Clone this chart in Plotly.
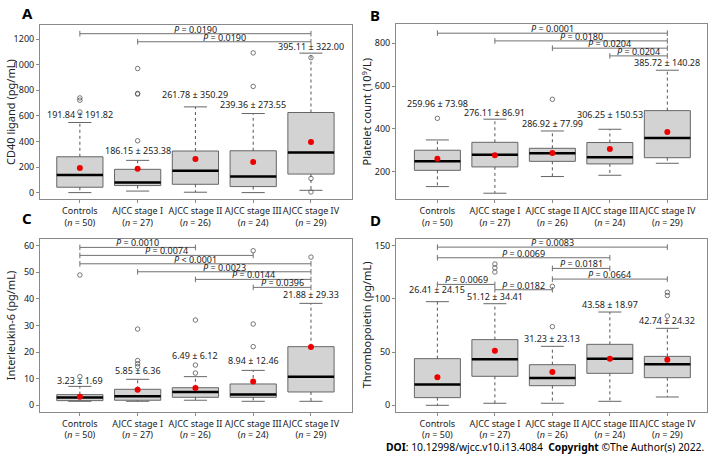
import plotly.graph_objects as go

W, H = 710, 461
FONT = "Noto Sans, Liberation Sans, Arial, sans-serif"

groups = ["Controls", "AJCC stage I", "AJCC stage II", "AJCC stage III", "AJCC stage IV"]
group_n = [50, 27, 26, 24, 29]
tick_labels = [f"{g}<br>(<i>n</i> = {n})" for g, n in zip(groups, group_n)]

# ---- Panel A: CD40 ligand (pg/mL)
cd40_q1 = [42, 55, 65, 47, 145]
cd40_median = [138, 78, 171, 125, 314]
cd40_q3 = [280, 182, 325, 327, 626]
cd40_low = [0, 12, 3, 0, 18]
cd40_high = [548, 252, 670, 618, 1090]
cd40_mean = [191.84, 186.15, 261.78, 239.36, 395.11]
cd40_sd = [191.82, 253.38, 350.29, 273.55, 322.00]
cd40_outliers = [[630, 722, 740], [405, 770, 775, 970], [], [830, 1092], [5, 110, 1055]]
cd40_label_y = [556, 275, 712, 634, 1085]
cd40_pairs = [(0, 4), (1, 4)]
cd40_pvals = ["= 0.0190", "= 0.0190"]
cd40_plevels = [1242, 1179]

# ---- Panel B: Platelet count
plt_q1 = [206, 222, 248, 236, 265]
plt_median = [248, 279, 286, 267, 357]
plt_q3 = [300, 337, 309, 336, 485]
plt_low = [130, 99, 177, 183, 239]
plt_high = [348, 445, 390, 398, 674]
plt_mean = [259.96, 276.11, 286.92, 306.25, 385.72]
plt_sd = [73.98, 86.91, 77.99, 150.53, 140.28]
plt_outliers = [[449], [], [538], [], []]
plt_label_y = [484, 445, 390, 435, 676]
plt_pairs = [(0, 4), (1, 4), (2, 4), (3, 4)]
plt_pvals = ["= 0.0001", "= 0.0180", "= 0.0204", "= 0.0204"]
plt_plevels = [847, 811, 777, 741]

# ---- Panel C: Interleukin-6 (pg/mL)
il6_q1 = [1.75, 1.9, 3.0, 3.0, 5.0]
il6_median = [2.9, 3.4, 5.0, 4.1, 10.75]
il6_q3 = [4.0, 6.0, 6.6, 8.0, 22.0]
il6_low = [1.5, 1.5, 1.9, 1.5, 1.5]
il6_high = [7.1, 9.75, 10.75, 13.1, 38.25]
il6_mean = [3.23, 5.85, 6.49, 8.94, 21.88]
il6_sd = [1.69, 6.36, 6.12, 12.46, 29.33]
il6_outliers = [[10.75, 48.9], [14.5, 15.6, 16.8, 28.6], [12.1, 15.1, 32.0], [22.0, 30.5, 58.0], [55.6]]
il6_label_y = [6.8, 10.3, 15.9, 14.2, 38.8]
il6_pairs = [(0, 2), (0, 3), (0, 4), (1, 4), (2, 4), (3, 4)]
il6_pvals = ["= 0.0010", "= 0.0074", "< 0.0001", "= 0.0023", "= 0.0144", "= 0.0396"]
il6_plevels = [59.25, 56.25, 53.1, 50.1, 47.25, 44.25]

# ---- Panel D: Thrombopoietin (pg/mL)
tpo_q1 = [7.2, 27.2, 18.4, 30.0, 25.9]
tpo_median = [19.4, 43.1, 25.6, 43.75, 38.4]
tpo_q3 = [43.75, 61.6, 38.1, 57.2, 45.9]
tpo_low = [0, 1.9, 1.9, 3.75, 7.8]
tpo_high = [97.2, 95.3, 55.3, 87.5, 72.2]
tpo_mean = [26.41, 51.12, 31.23, 43.58, 42.74]
tpo_sd = [24.15, 34.41, 23.13, 18.97, 24.32]
tpo_outliers = [[], [125, 129, 132.5], [73.75, 111.6], [], [83.75, 103, 106]]
tpo_label_y = [101.6, 95.3, 56.2, 88.4, 73.1]
tpo_pairs = [(0, 4), (0, 3), (2, 3), (2, 4), (0, 1), (1, 2)]
tpo_pvals = ["= 0.0083", "= 0.0069", "= 0.0181", "= 0.0664", "= 0.0069", "= 0.0182"]
tpo_plevels = [148.4, 138.4, 128.4, 118.4, 113.4, 108.4]

panels = [
    dict(letter="A", title="CD40 ligand (pg/mL)", q1=cd40_q1, med=cd40_median, q3=cd40_q3,
         low=cd40_low, high=cd40_high, mean=cd40_mean, sd=cd40_sd, out=cd40_outliers, ly=cd40_label_y,
         pairs=cd40_pairs, pv=cd40_pvals, pl=cd40_plevels,
         yrange=[-50, 1310], ytick=[0, 200, 400, 600, 800, 1000, 1200],
         px=(40, 352), py=(25, 199), xr=[-0.69, 4.71], letter_pos=(27, 13)),
    dict(letter="B", title="Platelet count (10<sup>9</sup>/L)", q1=plt_q1, med=plt_median, q3=plt_q3,
         low=plt_low, high=plt_high, mean=plt_mean, sd=plt_sd, out=plt_outliers, ly=plt_label_y,
         pairs=plt_pairs, pv=plt_pvals, pl=plt_plevels,
         yrange=[72, 890], ytick=[200, 400, 600, 800],
         px=(396, 707), py=(24, 199), xr=[-0.72, 4.69], letter_pos=(375, 15)),
    dict(letter="C", title="Interleukin-6 (pg/mL)", q1=il6_q1, med=il6_median, q3=il6_q3,
         low=il6_low, high=il6_high, mean=il6_mean, sd=il6_sd, out=il6_outliers, ly=il6_label_y,
         pairs=il6_pairs, pv=il6_pvals, pl=il6_plevels,
         yrange=[-2.4, 62.4], ytick=[0, 10, 20, 30, 40, 50, 60],
         px=(40, 352), py=(239, 411.7), xr=[-0.69, 4.71], letter_pos=(27, 218)),
    dict(letter="D", title="Thrombopoietin (pg/mL)", q1=tpo_q1, med=tpo_median, q3=tpo_q3,
         low=tpo_low, high=tpo_high, mean=tpo_mean, sd=tpo_sd, out=tpo_outliers, ly=tpo_label_y,
         pairs=tpo_pairs, pv=tpo_pvals, pl=tpo_plevels,
         yrange=[-6, 156], ytick=[0, 50, 100, 150],
         px=(396, 707), py=(239, 411.7), xr=[-0.72, 4.69], letter_pos=(375, 220)),
]

BOXLINE = "#666666"
FRAME = "#8a8a8a"
TXT = "#222222"
BRK = "#707070"
FS = 9

fig = go.Figure()
annotations = []
layout_axes = {}

for k, p in enumerate(panels):
    sfx = "" if k == 0 else str(k + 1)
    xa, ya = "x" + sfx, "y" + sfx
    pos = list(range(len(groups)))

    fig.add_trace(go.Box(x=pos, q1=p["q1"], median=p["med"], q3=p["q3"],
                         lowerfence=p["q1"], upperfence=p["q3"], width=0.8,
                         fillcolor="#d3d3d3", line=dict(color=BOXLINE, width=1),
                         boxpoints=False, whiskerwidth=0, hoverinfo="skip",
                         showlegend=False, xaxis=xa, yaxis=ya))
    wx, wy, cx, cy, mx, my = [], [], [], [], [], []
    for i in pos:
        wx += [i, i, None, i, i, None]
        wy += [p["q3"][i], p["high"][i], None, p["q1"][i], p["low"][i], None]
        cx += [i - 0.2, i + 0.2, None, i - 0.2, i + 0.2, None]
        cy += [p["high"][i], p["high"][i], None, p["low"][i], p["low"][i], None]
        mx += [i - 0.4, i + 0.4, None]
        my += [p["med"][i], p["med"][i], None]
    fig.add_trace(go.Scatter(x=wx, y=wy, mode="lines", line=dict(color="#555555", width=1, dash="dot"),
                             hoverinfo="skip", showlegend=False, xaxis=xa, yaxis=ya))
    fig.add_trace(go.Scatter(x=cx, y=cy, mode="lines", line=dict(color=BOXLINE, width=1),
                             hoverinfo="skip", showlegend=False, xaxis=xa, yaxis=ya))
    fig.add_trace(go.Scatter(x=mx, y=my, mode="lines", line=dict(color="black", width=2.5),
                             hoverinfo="skip", showlegend=False, xaxis=xa, yaxis=ya))
    ox, oy = [], []
    for i in pos:
        for v in p["out"][i]:
            ox.append(i)
            oy.append(v)
    fig.add_trace(go.Scatter(x=ox, y=oy, mode="markers",
                             marker=dict(symbol="circle-open", size=4.5, color="#555555", line=dict(width=0.8, color="#555555")),
                             hoverinfo="skip", showlegend=False, xaxis=xa, yaxis=ya))
    fig.add_trace(go.Scatter(x=pos, y=p["mean"], mode="markers",
                             marker=dict(symbol="circle", size=6, color="#ee0000"),
                             hoverinfo="skip", showlegend=False, xaxis=xa, yaxis=ya))
    bx, by, ex, ey = [], [], [], []
    for (a, b), h in zip(p["pairs"], p["pl"]):
        bx += [a, b, None]
        by += [h, h, None]
        ex += [a, b]
        ey += [h, h]
    fig.add_trace(go.Scatter(x=bx, y=by, mode="lines", line=dict(color=BRK, width=1),
                             hoverinfo="skip", showlegend=False, xaxis=xa, yaxis=ya))
    fig.add_trace(go.Scatter(x=ex, y=ey, mode="markers",
                             marker=dict(symbol="line-ns-open", size=4, color=BRK, line=dict(color=BRK, width=1)),
                             hoverinfo="skip", showlegend=False, xaxis=xa, yaxis=ya))
    for (a, b), h, t in zip(p["pairs"], p["pl"], p["pv"]):
        annotations.append(dict(x=(a + b) / 2, y=h, xref=xa, yref=ya, text=f"<i>P</i> {t}",
                                showarrow=False, yanchor="bottom", yshift=-4,
                                font=dict(family=FONT, size=FS, color=TXT)))
    for i in pos:
        annotations.append(dict(x=i, y=p["ly"][i], xref=xa, yref=ya,
                                text=f"{p['mean'][i]:.2f} ± {p['sd'][i]:.2f}",
                                showarrow=False, yanchor="bottom", yshift=-1.5,
                                font=dict(family=FONT, size=FS, color=TXT)))
    lx, ly = p["letter_pos"]
    annotations.append(dict(x=lx / W, y=1 - ly / H, xref="paper", yref="paper", text=f"<b>{p['letter']}</b>",
                            showarrow=False, xanchor="center", yanchor="middle",
                            font=dict(family=FONT, size=15, color="black")))
    x0, x1 = p["px"]
    y0, y1 = p["py"]
    annotations.append(dict(x=(x0 - 30) / W, y=1 - (y0 + y1) / 2 / H, xref="paper", yref="paper",
                            text=p["title"], textangle=-90, showarrow=False,
                            xanchor="center", yanchor="middle",
                            font=dict(family=FONT, size=11, color=TXT)))

    axis_common = dict(showline=True, mirror=True, linecolor=FRAME, linewidth=1, automargin=False,
                       ticks="outside", ticklen=3, tickcolor=FRAME, showgrid=False, zeroline=False,
                       tickfont=dict(family=FONT, size=FS, color=TXT))
    layout_axes["xaxis" + sfx] = dict(axis_common, domain=[x0 / W, x1 / W], range=p["xr"],
                                      tickvals=pos, ticktext=tick_labels, tickangle=0, anchor=ya)
    layout_axes["yaxis" + sfx] = dict(axis_common, domain=[1 - y1 / H, 1 - y0 / H], range=p["yrange"],
                                      tickvals=p["ytick"], anchor=xa)

annotations.append(dict(x=706 / W, y=1 - 447 / H, xref="paper", yref="paper",
                        text="<b>DOI</b>: 10.12998/wjcc.v10.i13.4084\u00a0\u00a0<b>Copyright</b> ©The Author(s) 2022.",
                        showarrow=False, xanchor="right", yanchor="middle",
                        font=dict(family=FONT, size=10.3, color="black")))

fig.update_layout(width=W, height=H, margin=dict(l=0, r=0, t=0, b=0, autoexpand=False),
                  paper_bgcolor="white", plot_bgcolor="white", showlegend=False,
                  annotations=annotations, **layout_axes)
fig.write_html("out.html", config={"displayModeBar": False},
               post_script="document.body.style.margin='0px';document.body.style.overflow='hidden';")
